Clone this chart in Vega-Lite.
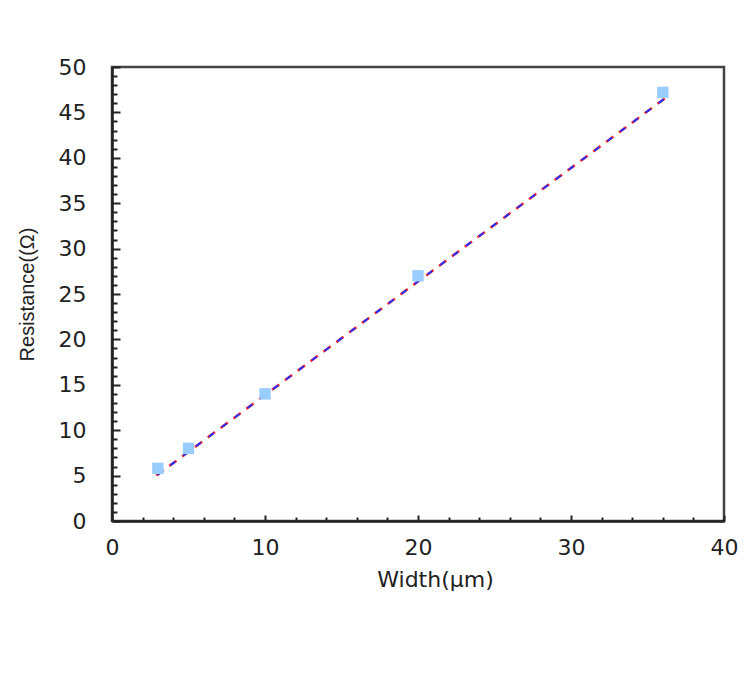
{
  "$schema": "https://vega.github.io/schema/vega-lite/v6.json",
  "width": 612,
  "height": 454,
  "autosize": {"type": "none"},
  "padding": {"left": 112, "top": 67, "right": 20, "bottom": 153},
  "background": "white",
  "config": {
    "view": {"stroke": "#444444", "strokeWidth": 2.5},
    "axis": {
      "labelFont": "DejaVu Sans",
      "titleFont": "Liberation Sans",
      "labelFontSize": 22,
      "titleFontSize": 20,
      "titleFontWeight": "normal",
      "labelColor": "#222222",
      "titleColor": "#222222",
      "labelFlush": false,
      "grid": false,
      "domainColor": "#222222",
      "domainWidth": 2.5,
      "tickColor": "#222222",
      "tickWidth": 2
    }
  },
  "datasets": {
    "pts": [
      {"width": 3, "resistance": 5.8},
      {"width": 5, "resistance": 8.0},
      {"width": 10, "resistance": 14.0},
      {"width": 20, "resistance": 27.0},
      {"width": 36, "resistance": 47.2}
    ],
    "fit": [
      {"width": 2.9, "resistance": 5.0},
      {"width": 36.5, "resistance": 47.0}
    ]
  },
  "resolve": {"axis": {"x": "independent", "y": "independent"}},
  "layer": [
    {
      "data": {"name": "fit"},
      "mark": {"type": "line", "color": "#ff2222", "strokeWidth": 2.5, "strokeDash": [9, 7]},
      "encoding": {
        "x": {"field": "width", "type": "quantitative", "scale": {"domain": [0, 40], "nice": false, "zero": false},
          "axis": {"orient": "bottom", "values": [0, 10, 20, 30, 40], "tickSize": -6, "labelPadding": 22, "labelFlush": false, "title": "Width(μm)", "titleFont": "DejaVu Sans", "titleFontSize": 22, "titlePadding": 11, "titleX": 323}},
        "y": {"field": "resistance", "type": "quantitative", "scale": {"domain": [0, 50], "nice": false, "zero": false},
          "axis": {"orient": "left", "values": [0, 5, 10, 15, 20, 25, 30, 35, 40, 45, 50], "tickSize": -8, "labelPadding": 34, "labelFlush": false, "title": "Resistance((Ω)", "titlePadding": 21}}
      }
    },
    {
      "data": {"name": "fit"},
      "mark": {"type": "line", "color": "#2233ff", "strokeWidth": 2, "strokeDash": [6, 10], "strokeDashOffset": -1.5},
      "encoding": {
        "x": {"field": "width", "type": "quantitative",
          "axis": {"orient": "bottom", "values": [2, 4, 6, 8, 12, 14, 16, 18, 22, 24, 26, 28, 32, 34, 36, 38], "tickSize": -4, "labels": false, "domain": false, "title": null}},
        "y": {"field": "resistance", "type": "quantitative",
          "axis": {"orient": "left", "values": [1,2,3,4,6,7,8,9,11,12,13,14,16,17,18,19,21,22,23,24,26,27,28,29,31,32,33,34,36,37,38,39,41,42,43,44,46,47,48,49], "tickSize": -5, "labels": false, "domain": false, "title": null}}
      }
    },
    {
      "data": {"name": "pts"},
      "mark": {"type": "point", "shape": "square", "filled": true, "opacity": 1, "color": "#99ccff", "size": 130},
      "encoding": {
        "x": {"field": "width", "type": "quantitative", "axis": null},
        "y": {"field": "resistance", "type": "quantitative", "axis": null}
      }
    }
  ]
}
